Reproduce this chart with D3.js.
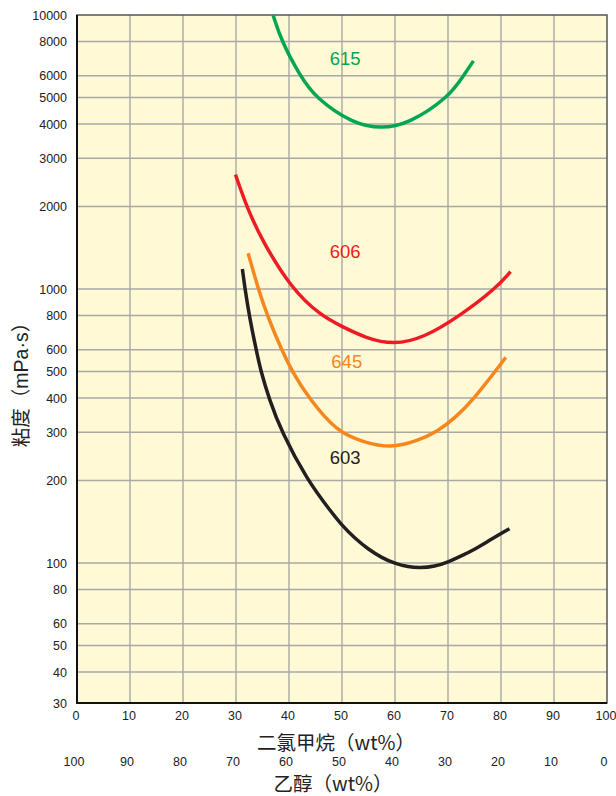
<!DOCTYPE html>
<html>
<head>
<meta charset="utf-8">
<script src="https://cdn.jsdelivr.net/npm/d3@7"></script>
<style>
  html, body { margin: 0; padding: 0; background: #ffffff; }
  svg { display: block; }
</style>
</head>
<body>
<svg id="chart" width="616" height="796"></svg>
<script>
// Dichloromethane content (wt%) on the x axis; ethanol is the complement.
const dcmTicks = [0, 10, 20, 30, 40, 50, 60, 70, 80, 90, 100];
const ethanolTicks = [100, 90, 80, 70, 60, 50, 40, 30, 20, 10, 0];
const viscosityTicks = [30, 40, 50, 60, 80, 100, 200, 300, 400, 500, 600, 800,
                        1000, 2000, 3000, 4000, 5000, 6000, 8000, 10000];

// Viscosity (mPa·s) against dichloromethane wt% for each grade.
const grade615 = [[37.0, 10000], [38.6, 8000], [42.1, 6000], [44.9, 5000], [52.1, 4000],
                  [57.5, 3850], [62.5, 4000], [70.1, 5000], [72.9, 6000], [74.8, 6800]];
const grade606 = [[29.9, 2614], [32.0, 2000], [34.85, 1510], [40.5, 1000], [46.0, 800],
                  [50, 729], [54.5, 662], [59.7, 625], [65.5, 664], [72.3, 800],
                  [78.9, 1000], [81.8, 1157]];
const grade645 = [[32.3, 1350], [34.2, 1000], [35.9, 800], [38.6, 600], [40.6, 500],
                  [43.7, 400], [49.1, 300], [54.1, 276], [59.2, 262], [64.2, 279],
                  [67.8, 300], [71.5, 340], [75.0, 400], [78.9, 500], [80.9, 563]];
const grade603 = [[31.2, 1183], [31.7, 1000], [32.5, 800], [33.8, 600], [34.7, 500],
                  [36.2, 400], [38.6, 300], [43.5, 200], [47.7, 156], [50, 137],
                  [52.5, 122.7], [55, 112.1], [57.5, 104.5], [60, 99.5], [62.5, 96.7],
                  [64.7, 95.9], [67.5, 97.1], [70, 100.8], [72.5, 106.1], [75, 112.1],
                  [77.5, 119.8], [80, 128.2], [81.6, 133.4]];

const seriesNames = ["615", "606", "645", "603"];
const seriesData = [grade615, grade606, grade645, grade603];
const seriesColors = ["#00a651", "#ed1c24", "#f7861c", "#231f20"];
// Where each grade's number is written, in data units.
const labelPos = [[50.6, 6910], [50.6, 1365], [50.9, 546], [50.6, 242]];

const svg = d3.select("#chart");
const plot = { left: 77, right: 607, top: 15, bottom: 703 };
const decade = 274;

const x = d3.scaleLinear().domain([0, 100]).range([plot.left, plot.right]);
const y = d3.scaleLog().domain([30, 10000])
  .range([plot.top + decade * Math.log10(10000 / 30), plot.top]);

const tickFont = "'Liberation Sans Narrow', 'Arial Narrow', 'Liberation Sans', Arial, sans-serif";
const labelFont = "'Liberation Sans', Arial, sans-serif";
const cjkFont = "'Noto Sans CJK SC', 'Liberation Sans', sans-serif";

// Plot background
svg.append("rect")
  .attr("x", plot.left).attr("y", plot.top)
  .attr("width", plot.right - plot.left).attr("height", plot.bottom - plot.top)
  .attr("fill", "#fff9d6");

// Grid
const grid = svg.append("g").attr("stroke", "#a9a9a4").attr("stroke-width", 1.4);
grid.selectAll("line.v").data(dcmTicks.slice(1, -1)).join("line")
  .attr("x1", d => x(d)).attr("x2", d => x(d))
  .attr("y1", plot.top).attr("y2", plot.bottom);
grid.selectAll("line.h").data(viscosityTicks.slice(1, -1)).join("line")
  .attr("x1", plot.left).attr("x2", plot.right)
  .attr("y1", d => y(d)).attr("y2", d => y(d));

// Frame
svg.append("rect")
  .attr("x", plot.left).attr("y", plot.top)
  .attr("width", plot.right - plot.left).attr("height", plot.bottom - plot.top)
  .attr("fill", "none").attr("stroke", "#555").attr("stroke-width", 1.5);
svg.append("path")
  .attr("d", `M${plot.left},${plot.top}V${plot.bottom}H${plot.right}`)
  .attr("fill", "none").attr("stroke", "#111").attr("stroke-width", 2);

// Y axis tick labels (the lowest one sits on the bottom edge)
const yAxis = d3.axisLeft(y).tickValues(viscosityTicks).tickFormat(d3.format("d"))
  .tickSize(0).tickPadding(10);
const yg = svg.append("g").attr("transform", `translate(${plot.left},0)`).call(yAxis);
yg.select(".domain").remove();
yg.selectAll(".tick").filter(d => d === 30)
  .attr("transform", `translate(0,${plot.bottom + 1})`);
yg.selectAll("text").attr("font-family", tickFont).attr("font-size", 12.5).attr("fill", "#222");

// X axis: dichloromethane row
const xAxis = d3.axisBottom(x).tickValues(dcmTicks).tickFormat(d3.format("d"))
  .tickSize(0).tickPadding(8);
const xg = svg.append("g").attr("transform", `translate(-1.5,${plot.bottom})`).call(xAxis);
xg.select(".domain").remove();
xg.selectAll("text").attr("font-family", tickFont).attr("font-size", 12.5).attr("fill", "#222");

// X axis: ethanol row (complement of dichloromethane)
svg.append("g").selectAll("text").data(dcmTicks).join("text")
  .attr("x", d => x(d) - 3)
  .attr("y", 766)
  .attr("text-anchor", "middle")
  .attr("font-family", tickFont).attr("font-size", 12.5).attr("fill", "#222")
  .text((d, i) => ethanolTicks[i]);

// Axis titles
svg.append("text")
  .attr("x", 336).attr("y", 750)
  .attr("text-anchor", "middle")
  .attr("font-family", cjkFont).attr("font-size", 19.5).attr("fill", "#222")
  .text("二氯甲烷（wt%）");
svg.append("text")
  .attr("x", 333).attr("y", 791)
  .attr("text-anchor", "middle")
  .attr("font-family", cjkFont).attr("font-size", 19.5).attr("fill", "#222")
  .text("乙醇（wt%）");
const yTitle = svg.append("text")
  .attr("transform", "translate(28,380) rotate(-90)")
  .attr("text-anchor", "middle")
  .attr("font-family", cjkFont).attr("font-size", 19.5).attr("fill", "#222");
yTitle.append("tspan").text("粘度（");
yTitle.append("tspan").attr("font-family", labelFont).text("mPa·s");
yTitle.append("tspan").text("）");

// Curves, smoothed through the read-off points
const line = d3.line()
  .x(d => x(d[0]))
  .y(d => y(d[1]))
  .curve(d3.curveBasis);

svg.append("clipPath").attr("id", "plotClip").append("rect")
  .attr("x", plot.left).attr("y", plot.top)
  .attr("width", plot.right - plot.left).attr("height", plot.bottom - plot.top);

svg.append("g").attr("clip-path", "url(#plotClip)")
  .selectAll("path").data(seriesData).join("path")
  .attr("d", line)
  .attr("fill", "none")
  .attr("stroke", (d, i) => seriesColors[i])
  .attr("stroke-width", 3.5)
  .attr("stroke-linecap", "butt");

// Grade labels
svg.append("g").selectAll("text").data(seriesNames).join("text")
  .attr("x", (d, i) => x(labelPos[i][0]))
  .attr("y", (d, i) => y(labelPos[i][1]))
  .attr("text-anchor", "middle")
  .attr("dominant-baseline", "central")
  .attr("font-family", labelFont).attr("font-size", 18.5)
  .attr("fill", (d, i) => seriesColors[i])
  .text(d => d);
</script>
</body>
</html>
